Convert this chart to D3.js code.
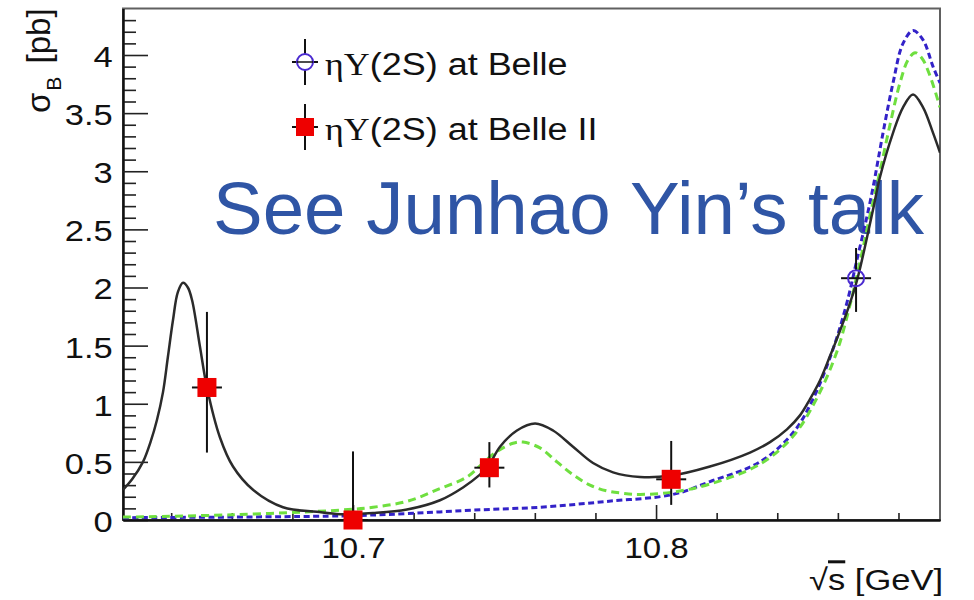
<!DOCTYPE html>
<html><head><meta charset="utf-8">
<script src="https://cdn.jsdelivr.net/npm/d3@7"></script>
<style>body{margin:0;background:#fff}</style>
</head><body>
<svg id="c" width="974" height="600" xmlns="http://www.w3.org/2000/svg"></svg>
<script>
// ---------- data ----------
const xDomain = [10.6241, 10.8937];
const yDomain = [0, 4.4];
const xTicksMajor = [10.7, 10.8];
const xTickLabels = ["10.7", "10.8"];
const yTicksMajor = [0, 0.5, 1, 1.5, 2, 2.5, 3, 3.5, 4];
const yTickLabels = ["0", "0.5", "1", "1.5", "2", "2.5", "3", "3.5", "4"];

// Belle II points (red squares)
const belleIIx = [10.6518, 10.7000, 10.7450, 10.8050];
const belleIIy = [1.14, 0.00, 0.45, 0.35];
const belleIIerrUp = [0.65, 0.59, 0.22, 0.33];
const belleIIerrDn = [0.56, 0.00, 0.17, 0.22];

// Belle point (open circle)
const belleX = [10.866];
const belleY = [2.08];
const belleErrUp = [0.26];
const belleErrDn = [0.29];

// total fit (black solid)
const blackX = [10.6241, 10.6271, 10.6307, 10.6333, 10.6353, 10.6373, 10.6389, 10.6406, 10.6422, 10.6439, 10.6455, 10.6469, 10.6495, 10.6518, 10.6561, 10.6604, 10.6670, 10.6769, 10.6881, 10.6957, 10.7066, 10.7178, 10.7287, 10.7363, 10.7419, 10.7446, 10.7485, 10.7541, 10.7601, 10.7660, 10.7726, 10.7792, 10.7858, 10.7947, 10.8046, 10.8178, 10.8310, 10.8376, 10.8432, 10.8475, 10.8508, 10.8541, 10.8574, 10.8600, 10.8630, 10.8663, 10.8716, 10.8739, 10.8782, 10.8815, 10.8848, 10.8881, 10.8914, 10.8937];
const blackY = [0.26, 0.35, 0.50, 0.68, 0.86, 1.10, 1.40, 1.72, 1.96, 2.04, 2.00, 1.89, 1.49, 1.14, 0.71, 0.46, 0.26, 0.11, 0.07, 0.05, 0.06, 0.09, 0.17, 0.28, 0.39, 0.46, 0.63, 0.77, 0.83, 0.77, 0.63, 0.49, 0.41, 0.37, 0.38, 0.46, 0.58, 0.67, 0.78, 0.90, 1.04, 1.20, 1.41, 1.58, 1.79, 2.06, 2.67, 2.95, 3.33, 3.55, 3.66, 3.55, 3.33, 3.16];

// green dashed component
const greenX = [10.6241, 10.6600, 10.6957, 10.7066, 10.7178, 10.7287, 10.7376, 10.7429, 10.7475, 10.7528, 10.7561, 10.7617, 10.7673, 10.7726, 10.7782, 10.7838, 10.7891, 10.7947, 10.8056, 10.8178, 10.8343, 10.8452, 10.8531, 10.8597, 10.8640, 10.8673, 10.8706, 10.8739, 10.8772, 10.8805, 10.8832, 10.8855, 10.8878, 10.8904, 10.8937];
const greenY = [0.025, 0.045, 0.085, 0.11, 0.16, 0.27, 0.37, 0.49, 0.59, 0.66, 0.67, 0.62, 0.50, 0.39, 0.30, 0.25, 0.23, 0.22, 0.24, 0.31, 0.48, 0.72, 1.05, 1.45, 1.85, 2.22, 2.62, 3.00, 3.40, 3.76, 3.96, 4.02, 3.97, 3.82, 3.55];

// blue dashed component
const blueX = [10.6241, 10.6957, 10.7178, 10.7396, 10.7617, 10.7838, 10.8056, 10.8178, 10.8343, 10.8452, 10.8518, 10.8584, 10.8630, 10.8663, 10.8696, 10.8716, 10.8749, 10.8782, 10.8815, 10.8848, 10.8881, 10.8914, 10.8937];
const blueY = [0.02, 0.035, 0.055, 0.085, 0.11, 0.16, 0.22, 0.33, 0.50, 0.75, 1.04, 1.47, 1.87, 2.24, 2.61, 2.86, 3.33, 3.76, 4.10, 4.21, 4.13, 3.90, 3.76];

// ---------- drawing ----------
const FONT = "'Liberation Sans', Arial, Helvetica, sans-serif";
const SERIF = "'Liberation Serif', 'Times New Roman', serif";
const plot = {left: 123, right: 940, top: 8.5, bottom: 520};
const x = d3.scaleLinear().domain(xDomain).range([plot.left, plot.right]);
const y = d3.scaleLinear().domain(yDomain).range([plot.bottom, plot.top]);
const svg = d3.select("#c");

// frame
svg.append("rect").attr("x", plot.left).attr("y", plot.top)
  .attr("width", plot.right - plot.left).attr("height", plot.bottom - plot.top)
  .attr("fill", "none").attr("stroke", "#606060").attr("stroke-width", 2);

// overlay text (under curves)
svg.append("text").attr("x", 213).attr("y", 234)
  .attr("font-family", FONT).attr("font-size", 74.5).attr("fill", "#2f55a5")
  .text("See Junhao Yin\u2019s talk");

// axes
const yMinor = d3.range(0, 44).map(d => d / 10).filter(d => Math.round(d * 10) % 5 !== 0);
const xMinor = d3.range(10.64, 10.89, 0.02).map(d => +d.toFixed(2)).filter(d => !xTicksMajor.includes(d));

const gy = svg.append("g").attr("transform", `translate(${plot.left},0)`);
gy.append("g").call(d3.axisLeft(y).tickValues(yMinor).tickSize(-13).tickSizeOuter(0).tickFormat(""));
gy.append("g").call(d3.axisLeft(y).tickValues(yTicksMajor).tickSize(-25).tickSizeOuter(0).tickPadding(9)
  .tickFormat((d, i) => yTickLabels[i]));
gy.selectAll("path.domain").attr("stroke", "#111").attr("stroke-width", 2);
gy.selectAll(".tick line").attr("stroke", "#222").attr("stroke-width", 1.6);
gy.selectAll("text").attr("font-family", FONT).attr("font-size", 30).attr("fill", "#111")
  .attr("transform", "scale(1.15,1)").attr("dy", "0.38em");

const gx = svg.append("g").attr("transform", `translate(0,${plot.bottom})`);
gx.append("g").call(d3.axisBottom(x).tickValues(xMinor).tickSize(-7).tickSizeOuter(0).tickFormat(""));
gx.append("g").call(d3.axisBottom(x).tickValues(xTicksMajor).tickSize(-15).tickSizeOuter(0).tickPadding(17)
  .tickFormat((d, i) => xTickLabels[i]));
gx.selectAll("path.domain").attr("stroke", "#111").attr("stroke-width", 2);
gx.selectAll(".tick line").attr("stroke", "#222").attr("stroke-width", 1.6);
gx.selectAll("text").attr("font-family", FONT).attr("font-size", 30).attr("fill", "#111")
  .attr("transform", "scale(1.1,1)");

// axis titles
const xt = svg.append("text").attr("transform", "translate(943,590) scale(1.15,1)")
  .attr("text-anchor", "end").attr("font-family", FONT).attr("font-size", 30).attr("fill", "#111");
xt.append("tspan").text("\u221A");
xt.append("tspan").attr("style", "text-decoration: overline").text("s");
xt.append("tspan").text(" [GeV]");

const yt = svg.append("text").attr("transform", "translate(50,113) rotate(-90)")
  .attr("font-family", FONT).attr("fill", "#111");
yt.append("tspan").attr("font-size", 33).text("\u03C3");
yt.append("tspan").attr("font-size", 21).attr("dx", 2).attr("dy", 11).text("B");
yt.append("tspan").attr("font-size", 33).attr("dx", 4).attr("dy", -11).text(" [pb]");

// curves
svg.append("clipPath").attr("id", "clip").append("rect")
  .attr("x", plot.left).attr("y", plot.top).attr("width", plot.right - plot.left).attr("height", plot.bottom - plot.top);
const line = d3.line().x(d => x(d[0])).y(d => y(d[1])).curve(d3.curveCatmullRom.alpha(0.5));
const curves = svg.append("g").attr("clip-path", "url(#clip)");
curves.append("path").datum(d3.zip(blueX, blueY)).attr("d", line)
  .attr("fill", "none").attr("stroke", "#3322c8").attr("stroke-width", 3).attr("stroke-dasharray", "6,3.5");
curves.append("path").datum(d3.zip(greenX, greenY)).attr("d", line)
  .attr("fill", "none").attr("stroke", "#6fdf3f").attr("stroke-width", 3).attr("stroke-dasharray", "8,5");
curves.append("path").datum(d3.zip(blackX, blackY)).attr("d", line)
  .attr("fill", "none").attr("stroke", "#2b2b2b").attr("stroke-width", 2.5);

// data points
const CAP = 15, SQ = 19, R = 8;
const bII = svg.append("g");
belleIIx.forEach((xv, i) => {
  const cx = x(xv), cy = y(belleIIy[i]);
  bII.append("line").attr("x1", cx).attr("x2", cx).attr("y1", y(belleIIy[i] + belleIIerrUp[i])).attr("y2", y(belleIIy[i] - belleIIerrDn[i]))
    .attr("stroke", "#111").attr("stroke-width", 2);
  bII.append("line").attr("x1", cx - CAP).attr("x2", cx + CAP).attr("y1", cy).attr("y2", cy)
    .attr("stroke", "#111").attr("stroke-width", 2);
  bII.append("rect").attr("x", cx - SQ / 2).attr("y", cy - SQ / 2).attr("width", SQ).attr("height", SQ).attr("fill", "#ee0000");
});
const bI = svg.append("g");
belleX.forEach((xv, i) => {
  const cx = x(xv), cy = y(belleY[i]);
  bI.append("line").attr("x1", cx).attr("x2", cx).attr("y1", y(belleY[i] + belleErrUp[i])).attr("y2", cy - R)
    .attr("stroke", "#111").attr("stroke-width", 2);
  bI.append("line").attr("x1", cx).attr("x2", cx).attr("y1", cy + R).attr("y2", y(belleY[i] - belleErrDn[i]))
    .attr("stroke", "#111").attr("stroke-width", 2);
  bI.append("line").attr("x1", cx - CAP).attr("x2", cx + CAP).attr("y1", cy).attr("y2", cy)
    .attr("stroke", "#111").attr("stroke-width", 2);
  bI.append("circle").attr("cx", cx).attr("cy", cy).attr("r", R).attr("fill", "none")
    .attr("stroke", "#4a2ad0").attr("stroke-width", 2);
});

// legend
const legendLabels = ["Belle", "Belle II"];
const legendTypes = ["circle", "square"];
const leg = svg.append("g");
legendLabels.forEach((lab, i) => {
  const my = 62 + i * 65, mx = 305;
  const g = leg.append("g");
  g.append("line").attr("x1", mx).attr("x2", mx).attr("y1", my - 23).attr("y2", my + 23).attr("stroke", "#111").attr("stroke-width", 2);
  g.append("line").attr("x1", mx - 13).attr("x2", mx + 13).attr("y1", my).attr("y2", my).attr("stroke", "#111").attr("stroke-width", 2);
  if (legendTypes[i] === "circle") {
    g.append("circle").attr("cx", mx).attr("cy", my).attr("r", R).attr("fill", "#fff").attr("stroke", "#4a2ad0").attr("stroke-width", 2);
    g.append("line").attr("x1", mx - R).attr("x2", mx + R).attr("y1", my).attr("y2", my).attr("stroke", "#111").attr("stroke-width", 1.5);
  } else {
    g.append("rect").attr("x", mx - 9).attr("y", my - 9).attr("width", 18).attr("height", 18).attr("fill", "#ee0000");
  }
  const t = g.append("text").attr("transform", `translate(325,${my + 13}) scale(1.16,1)`)
    .attr("font-family", FONT).attr("font-size", 31).attr("fill", "#111");
  t.append("tspan").attr("font-family", SERIF).text("\u03B7\u03A5");
  t.append("tspan").text("(2S) at " + lab);
});
</script>
</body></html>
